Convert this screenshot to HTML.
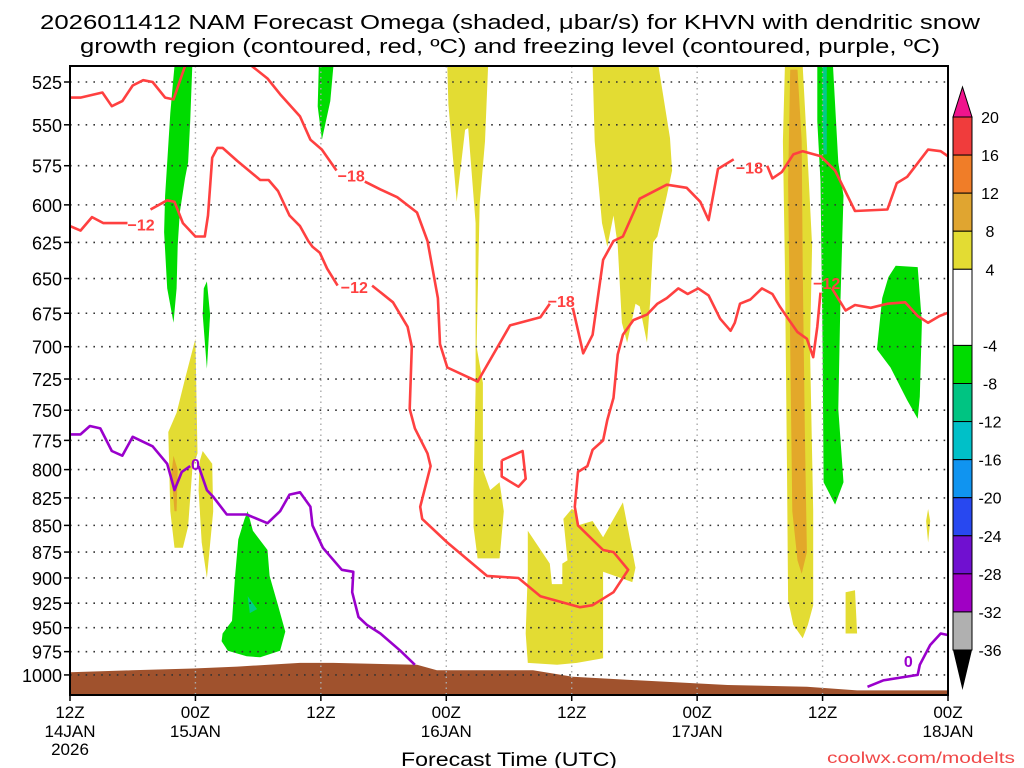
<!DOCTYPE html>
<html><head><meta charset="utf-8"><style>
html,body{margin:0;padding:0;background:#fff;width:1024px;height:768px;overflow:hidden}
svg{display:block;font-family:"Liberation Sans",sans-serif}
</style></head><body>
<svg id="chart" width="1024" height="768" viewBox="0 0 1024 768" xmlns="http://www.w3.org/2000/svg">
<g font-size="20" text-anchor="middle" fill="#000">
<text x="510" y="29" textLength="940" lengthAdjust="spacingAndGlyphs">2026011412 NAM Forecast Omega (shaded, μbar/s) for KHVN with dendritic snow</text>
<text x="510" y="53" textLength="860" lengthAdjust="spacingAndGlyphs">growth region (contoured, red, ºC) and freezing level (contoured, purple, ºC)</text>
</g>
<g id="plot"></g>
<g id="axes"></g>
<g id="cbar"></g>
<text x="509" y="766" font-size="19" text-anchor="middle" textLength="216" lengthAdjust="spacingAndGlyphs">Forecast Time (UTC)</text>
<text x="1015" y="763" font-size="16" text-anchor="end" fill="#f04848" textLength="188" lengthAdjust="spacingAndGlyphs">coolwx.com/modelts</text>
</svg>
<script>
// ---- data (hour since 12Z 14JAN, pressure hPa) ----
const pressureTicks=[525,550,575,600,625,650,675,700,725,750,775,800,825,850,875,900,925,950,975,1000];
const timeTicks=[0,12,24,36,48,60,72,84];
const timeLabels1=["12Z","00Z","12Z","00Z","12Z","00Z","12Z","00Z"];
const timeLabels2=["14JAN","15JAN","","16JAN","","17JAN","","18JAN"];
const cbarLevels=[20,16,12,8,4,-4,-8,-12,-16,-20,-24,-28,-32,-36];
const cbarColors=["#f03c3c","#f07d28","#e0a530","#e3dc33","#ffffff","#00dc00","#00c482","#00c0c8","#1094f0","#2848f0","#7010d0","#a000c4","#b0b0b0"];
const ground=[[0,997],[5.9,995],[11.8,993],[16,991],[22,987],[25.2,987],[33.2,989],[35.1,995],[42.1,995],[44.3,995],[48.1,1002],[54.5,1006],[62.9,1011],[70.5,1013],[75.3,1017],[84.2,1017]];
const yellowAreas=[
[[9.4,768],[10.2,752],[11,725],[12,694],[12.2,786],[11.7,800],[11.3,851],[10.8,871],[10,871],[9.6,837]],
[[12.7,784],[13.6,795],[13.7,837],[13.1,900],[12.6,866],[12.3,818],[12.4,793]],
[[36.1,516],[40,516],[39.7,560],[39.2,599],[38.9,700],[39.5,728],[39.5,800],[40.2,818],[41.1,811],[41.5,837],[41.1,881],[39,881],[38.6,851],[38.6,818],[38.8,732],[38.8,612],[38.1,552],[37.8,553],[37,598],[36.2,538]],
[[43.8,855],[45.9,886],[46.1,906],[47.1,906],[47.1,886],[47.6,883],[47.2,844],[48,835],[48.5,837],[48.6,850],[50,846],[51,861],[52.9,829],[54.1,890],[53.8,904],[51,894],[51,982],[48.5,987],[46.6,989],[43.8,987],[43.6,956],[43.8,894]],
[[50,516],[56.3,516],[57.4,558],[57.6,578],[57.1,594],[56.2,621],[55.8,625],[55.5,667],[55.2,697],[54.5,670],[54.1,668],[53.3,697],[52.8,682],[52.4,627],[52,607],[51.4,628],[50.9,612],[50.2,560]],
[[68.4,516],[70.1,516],[70.6,573],[71,627],[70.8,700],[71.1,837],[71.1,927],[70.6,947],[70.1,961],[69.2,947],[68.7,922],[68.6,800],[68.4,641],[68.2,560]],
[[74.2,914],[75.1,912],[75.3,956],[74.2,956]],
[[82.1,835],[82.3,846],[82.1,866],[81.9,846]]];
const orangeAreas=[
[[9.9,788],[10.3,800],[10.2,837],[10,837],[9.7,804]],
[[68.9,518],[69.6,518],[70,560],[70.1,641],[70.3,765],[70.5,875],[70,896],[69.6,883],[69.1,837],[68.9,700],[68.7,585]]];
const greenAreas=[
[[10,516],[11.7,516],[11.5,548],[11.3,573],[11,583],[10.5,605],[10.3,627],[10.2,657],[9.9,682],[9.3,657],[9,618],[9.1,594],[9.3,573],[9.6,543],[9.9,522]],
[[13.1,652],[13.4,676],[13.1,717],[12.7,676],[12.8,657]],
[[23.8,516],[25.2,516],[24.9,536],[24.1,559],[23.7,539]],
[[17,837],[17.5,855],[18.9,873],[19.1,898],[19.9,927],[20.6,954],[20.1,974],[18.2,981],[16.9,980],[15.1,974],[14.5,964],[14.6,956],[15.5,943],[15.8,898],[16.1,863],[16.7,844]],
[[71.5,516],[73,516],[73.5,573],[74,594],[73.7,670],[73.5,749],[74,811],[73.2,831],[72.1,811],[72,700],[71.8,585],[71.5,548]],
[[79,641],[81.1,642],[81.5,682],[81.3,739],[81.1,757],[80.1,742],[78.5,716],[77.2,702],[77.7,664],[78.3,649]]];
const tealAreas=[
[[17,918],[17.9,931],[17.2,935]],
[[72,516],[72.4,516],[72.4,568],[72.1,568],[72,548]]];
const redLines=[
[[0,534],[1,534],[3.1,531],[4,539],[5,536],[6,527],[7,524],[7.9,525],[9.1,534],[9.9,535],[11,516]],
[[0,614],[1,617],[2.1,608],[3.2,612],[5.5,612]],
[[7.7,603],[9.3,597],[10,598],[10.8,612],[12,621],[12.9,621],[13.2,607],[13.6,570],[14.1,564],[14.6,564],[16,572],[18.2,584],[19,584],[19.9,591],[21,607],[22,614],[22.8,624],[23.2,628],[23.9,632],[24.6,643],[25.6,655]],
[[28.9,655],[30.9,667],[32.3,685],[32.7,700],[32.5,749],[33,765],[34.2,786],[34.5,797],[33.5,833],[33.7,844],[36.1,866],[39.9,898],[42.9,900],[45,918],[48.8,929],[50,927],[52,914],[53.4,892],[52,875],[51,873],[48.6,850],[48.3,833],[48.6,802],[49.5,797],[50,783],[51,775],[51.4,758],[52,740],[52.4,706],[52.9,691],[53.9,680],[55.2,676],[56.2,668],[57.1,664],[58.2,657],[59.1,661],[60.1,657],[61.1,662],[62.2,679],[63.2,688],[63.6,682],[64.1,668],[65.1,665],[66.2,657],[67.2,661],[67.9,670],[68.7,679],[69.6,689],[70.5,694],[71.1,708],[71.5,685],[71.8,660]],
[[72.9,657],[74.2,673],[75.1,669],[76.6,671],[78.2,668],[79.9,667],[81.1,677],[82.1,682],[83.2,677],[84.2,674]],
[[17.4,516],[18.9,523],[20.1,532],[22,545],[23,559],[24.1,565],[25.5,578]],
[[28.2,585],[29.7,590],[31.3,595],[33.2,605],[34.2,624],[35.2,664],[35.4,698],[36.1,716],[39,727],[42.1,684],[45,678],[45.9,668]],
[[48.1,671],[49.1,705],[50,691],[51,637],[52,624],[52.9,621],[54.5,596],[57.1,587],[59,589],[60.3,598],[61.1,610],[62,577],[63.5,571]],
[[66.7,575],[67.2,583],[68.1,579],[69.2,568],[70.1,566],[71.8,569],[73.2,578],[75.1,604],[78.2,603],[79.1,586],[80.1,582],[82.1,565],[83.3,566],[84.2,570]],
[[41.3,792],[43.3,784],[43.6,808],[42.9,815],[41.3,806],[41.3,792]]];
const redLabels=[[6.8,613,"−12"],[27.2,656,"−12"],[26.9,581,"−18"],[47,666,"−18"],[65,576,"−18"],[72.4,653,"−12"]];
const purpleLines=[
[[0,770],[1,770],[1.9,763],[2.9,765],[4,784],[5,788],[6,772],[7.9,780],[9.3,795],[10,818],[10.7,802],[11.5,797]],
[[12.3,797],[13.1,818],[13.7,824],[15,840],[16.9,840],[18.9,848],[20.1,837],[21,822],[22,820],[23,833],[23.2,850],[24.2,871],[26,892],[27.1,894],[27,914],[27.6,939],[28.4,947],[29.7,956],[31.6,974],[33,989]],
[[76.3,1013],[77.8,1006],[81.1,1000],[81.3,989],[82.3,968],[83.3,956],[84.2,958]]];
const purpleLabels=[[12,795,"0"],[80.2,985,"0"]];

// ---- scales ----
const L=70,R=948,T=66,B=695;
const X=h=>L+h*(R-L)/84;
const Y=p=>82+920.2*Math.log(p/525);
const pBottom=525*Math.exp((B-82)/920.2);
const NS="http://www.w3.org/2000/svg";
function mk(tag,parent,attrs){const e=document.createElementNS(NS,tag);for(const k in attrs)e.setAttribute(k,attrs[k]);parent.appendChild(e);return e;}
const pts=a=>a.map(d=>X(d[0]).toFixed(1)+","+Y(d[1]).toFixed(1)).join(" ");
const plot=document.getElementById("plot");
const clip=mk("clipPath",plot,{id:"pc"});mk("rect",clip,{x:L,y:T,width:R-L,height:B-T});
const g=mk("g",plot,{"clip-path":"url(#pc)"});
function areas(list,color,name){list.forEach(a=>{const e=mk("polygon",g,{points:pts(a),fill:color});

});}
areas(yellowAreas,"#e3dc33","omega-yellow-area");
areas(orangeAreas,"#e3a82a","omega-orange-area");
areas(greenAreas,"#00dc00","omega-green-area");
areas(tealAreas,"#00cc88","omega-teal-area");
// ground
const gp=ground.concat([[84.2,pBottom],[0,pBottom]]);
const gr=mk("polygon",g,{points:pts(gp),fill:"#a0522d"});


// grid
pressureTicks.forEach(p=>{const e=mk("line",g,{x1:L,x2:R,y1:Y(p),y2:Y(p),stroke:"#333","stroke-width":1.6,"stroke-dasharray":"1.6 6.2"});

});
timeTicks.forEach(t=>{const e=mk("line",g,{x1:X(t),x2:X(t),y1:T,y2:B,stroke:"#aaa","stroke-width":1.4,"stroke-dasharray":"1.5 4"});

});
// contours
function lines(list,color,name){list.forEach(a=>{const e=mk("polyline",g,{points:pts(a),fill:"none",stroke:color,"stroke-width":2.6,"stroke-linejoin":"round"});

});}
lines(redLines,"#ff4040","dendritic-contour");
lines(purpleLines,"#9a00cc","freezing-level-contour");
redLabels.forEach(l=>{const e=mk("text",g,{x:X(l[0]),y:Y(l[1])+6,"font-size":16,"font-weight":"bold",fill:"#ff4040","text-anchor":"middle"});e.textContent=l[2];

});
purpleLabels.forEach(l=>{const e=mk("text",g,{x:X(l[0]),y:Y(l[1])+6,"font-size":16,"font-weight":"bold",fill:"#9a00cc","text-anchor":"middle"});e.textContent=l[2];

});
// axes
const ax=document.getElementById("axes");
const fr=mk("rect",ax,{x:L,y:T,width:R-L,height:B-T,fill:"none",stroke:"#000","stroke-width":2});


pressureTicks.forEach(p=>{mk("line",ax,{x1:L-6,x2:L,y1:Y(p),y2:Y(p),stroke:"#000","stroke-width":1.5});
const e=mk("text",ax,{x:62,y:Y(p)+7,"font-size":18,"text-anchor":"end"});e.textContent=p;

});
timeTicks.forEach((t,i)=>{mk("line",ax,{x1:X(t),x2:X(t),y1:B,y2:B+6,stroke:"#000","stroke-width":1.5});
const a=mk("text",ax,{x:X(t),y:718,"font-size":17,"text-anchor":"middle"});a.textContent=timeLabels1[i];


if(timeLabels2[i]){const b=mk("text",ax,{x:X(t),y:737,"font-size":17,"text-anchor":"middle"});b.textContent=timeLabels2[i];

}});
const yr=mk("text",ax,{x:X(0),y:755,"font-size":17,"text-anchor":"middle"});yr.textContent="2026";


// colorbar
const cb=document.getElementById("cbar");
const cy=v=>117+(20-v)*(650-117)/56;
const cx=953,cw=19;
const tt=mk("polygon",cb,{points:`${cx},${cy(20)} ${cx+cw},${cy(20)} ${cx+cw/2},${cy(20)-30}`,fill:"#f0148c",stroke:"#000","stroke-width":1});


for(let i=0;i<cbarColors.length;i++){const e=mk("rect",cb,{x:cx,y:cy(cbarLevels[i]),width:cw,height:cy(cbarLevels[i+1])-cy(cbarLevels[i]),fill:cbarColors[i],stroke:"#000","stroke-width":1});

}
const bt=mk("polygon",cb,{points:`${cx},${cy(-36)} ${cx+cw},${cy(-36)} ${cx+cw/2},${cy(-36)+40}`,fill:"#000"});


cbarLevels.forEach(v=>{const e=mk("text",cb,{x:990,y:cy(v)+6,"font-size":16,"text-anchor":"middle"});e.textContent=v;

});
</script>
</body></html>
